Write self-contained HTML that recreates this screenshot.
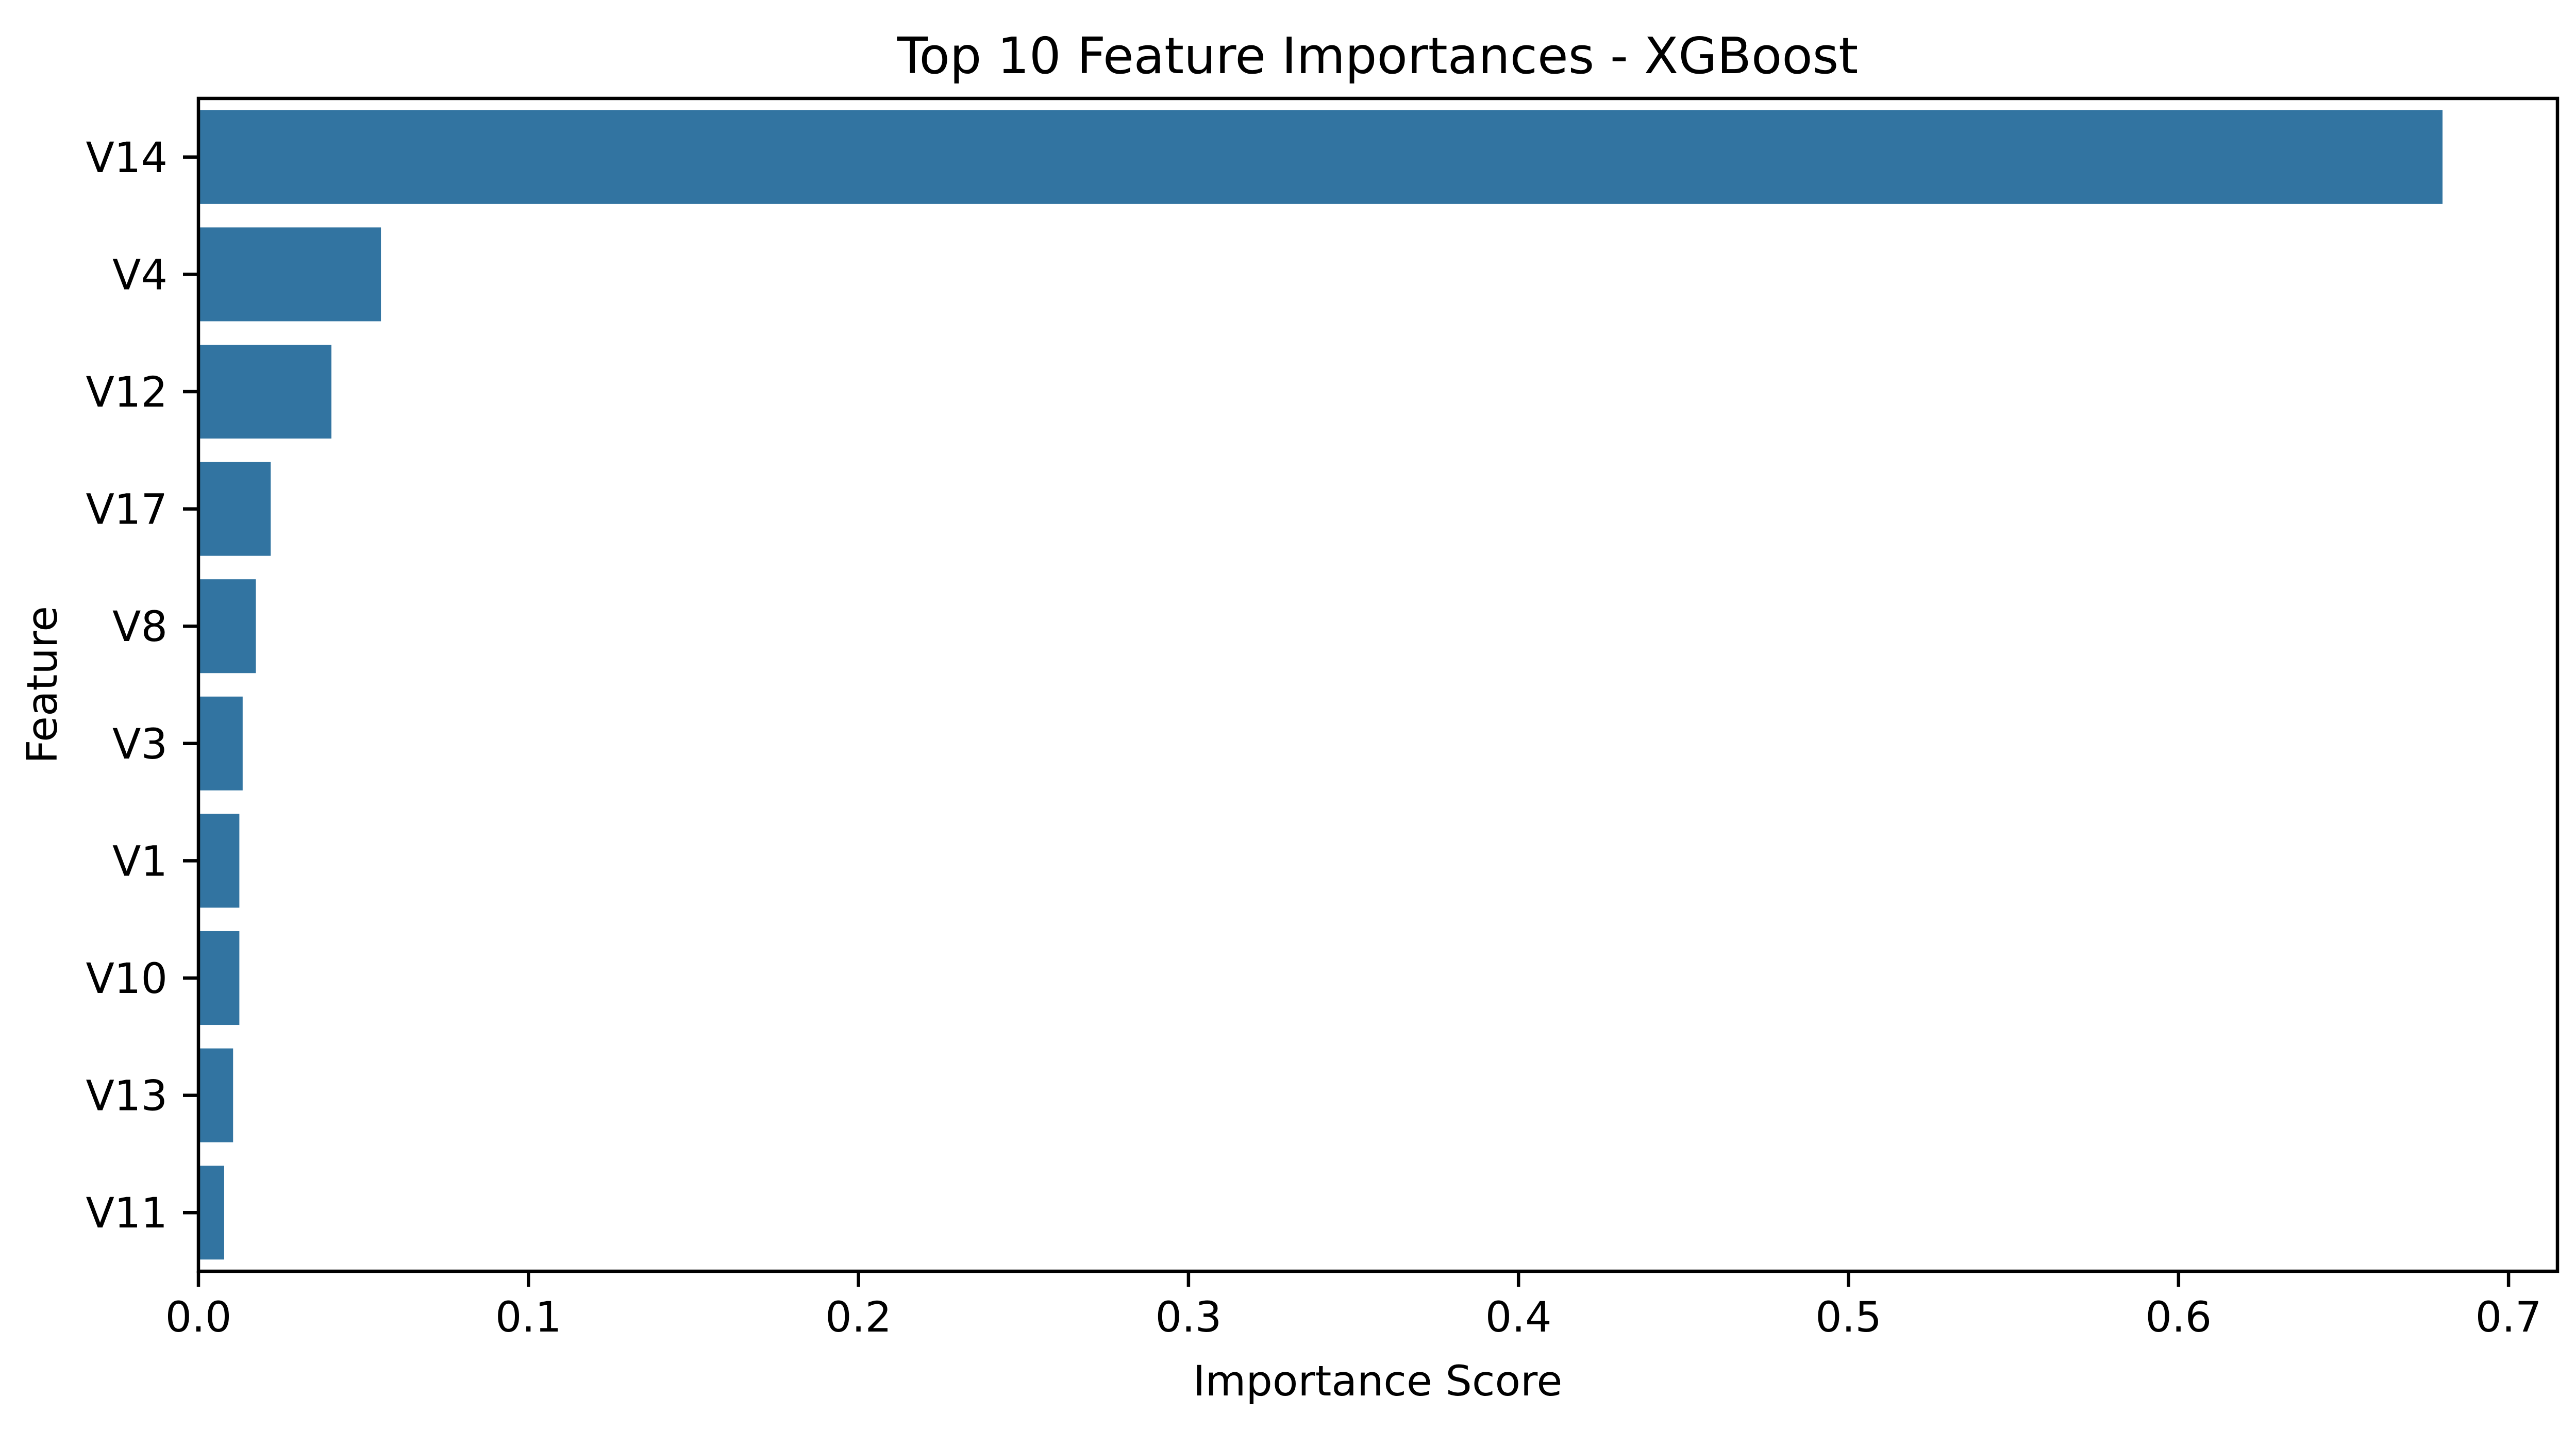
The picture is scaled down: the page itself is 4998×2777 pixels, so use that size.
<!DOCTYPE html>
<html><head><meta charset="utf-8"><style>
html,body{margin:0;padding:0;background:#fff;}
svg{display:block;font-family:"DejaVu Sans","Liberation Sans",sans-serif;}
</style></head><body>
<svg id="chart" width="4998" height="2777" viewBox="0 0 4998 2777" xmlns="http://www.w3.org/2000/svg">
<rect x="0" y="0" width="4998" height="2777" fill="#ffffff"/>
<text x="2673" y="142" font-size="97" text-anchor="middle" fill="#000">Top 10 Feature Importances - XGBoost</text>
<g id="bars"></g>
<g id="yticks"></g>
<g id="xticks"></g>
<rect x="385" y="191" width="4577" height="2276" fill="none" stroke="#000" stroke-width="6.5"/>
<text x="2673" y="2708" font-size="81" text-anchor="middle" fill="#000">Importance Score</text>
<text x="110" y="1329" font-size="81" text-anchor="middle" fill="#000" transform="rotate(-90 110 1329)">Feature</text>
</svg>
<script>
const categories = ["V14","V4","V12","V17","V8","V3","V1","V10","V13","V11"];
const importances = [0.680,0.0553,0.0403,0.0219,0.0174,0.0134,0.0124,0.0124,0.0105,0.0078];
const xTicks = [0,0.1,0.2,0.3,0.4,0.5,0.6,0.7];
const xTickLabels = ["0.0","0.1","0.2","0.3","0.4","0.5","0.6","0.7"];

const NS = "http://www.w3.org/2000/svg";
const L = 385, R = 4962, T = 191, B = 2467;
const PX_PER_UNIT = 6403;
function xScale(v){ return L + v * PX_PER_UNIT; }
const band = (B - T) / categories.length;
function yCenter(i){ return T + band * (i + 0.5); }

const bars = document.getElementById('bars');
const yt = document.getElementById('yticks');
const xt = document.getElementById('xticks');

categories.forEach((c, i) => {
  const r = document.createElementNS(NS, 'rect');
  
  
  const h = band * 0.8;
  r.setAttribute('x', L);
  r.setAttribute('y', yCenter(i) - h / 2);
  r.setAttribute('width', xScale(importances[i]) - L);
  r.setAttribute('height', h);
  r.setAttribute('fill', '#3274a1');
  bars.appendChild(r);

  const tk = document.createElementNS(NS, 'line');
  
  
  tk.setAttribute('x1', L - 30); tk.setAttribute('x2', L);
  tk.setAttribute('y1', yCenter(i)); tk.setAttribute('y2', yCenter(i));
  tk.setAttribute('stroke', '#000'); tk.setAttribute('stroke-width', '6.5');
  yt.appendChild(tk);

  const t = document.createElementNS(NS, 'text');
  
  
  t.setAttribute('x', L - 60);
  t.setAttribute('y', yCenter(i) + 29);
  t.setAttribute('font-size', '81');
  t.setAttribute('text-anchor', 'end');
  t.textContent = c;
  yt.appendChild(t);
});

xTicks.forEach((v, i) => {
  const x = xScale(v);
  const tk = document.createElementNS(NS, 'line');
  
  
  tk.setAttribute('x1', x); tk.setAttribute('x2', x);
  tk.setAttribute('y1', B); tk.setAttribute('y2', B + 30);
  tk.setAttribute('stroke', '#000'); tk.setAttribute('stroke-width', '6.5');
  xt.appendChild(tk);

  const t = document.createElementNS(NS, 'text');
  
  
  t.setAttribute('x', x);
  t.setAttribute('y', 2584);
  t.setAttribute('font-size', '81');
  t.setAttribute('text-anchor', 'middle');
  t.textContent = xTickLabels[i];
  xt.appendChild(t);
});
</script>
</body></html>
